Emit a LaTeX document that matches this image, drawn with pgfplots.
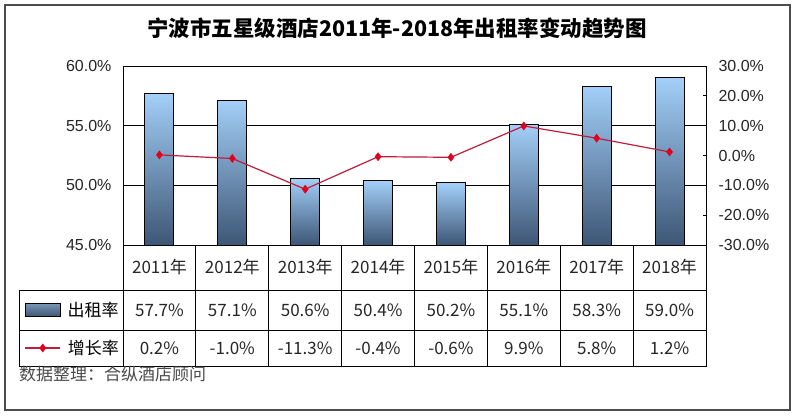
\documentclass[border=0pt]{standalone}
\usepackage{pgfplots}
\usepackage{pgfplotstable}
\pgfplotsset{compat=1.18}
\usepackage{fontspec}
\setmainfont{Liberation Sans}
\newfontfamily\cjk{Noto Sans CJK SC}
\definecolor{barTop}{RGB}{163,207,248}
\definecolor{barBot}{RGB}{61,86,117}
\definecolor{legTop}{RGB}{120,150,180}
\definecolor{lineRed}{RGB}{190,30,60}
\definecolor{markRed}{RGB}{225,0,30}
\pgfplotstableread{
x occ gr
0 57.7 0.2
1 57.1 -1.0
2 50.6 -11.3
3 50.4 -0.4
4 50.2 -0.6
5 55.1 9.9
6 58.3 5.8
7 59.0 1.2
}\data
\begin{document}
\begin{tikzpicture}
\useasboundingbox (0pt,0pt) rectangle (800pt,-417pt);
\fill[white] (0pt,0pt) rectangle (800pt,-417pt);
\pgfplotsset{
  common/.style={at={(123pt,-245pt)}, anchor=south west, scale only axis,
    width=583pt, height=179pt, xmin=-0.5, xmax=7.5,
    axis line style={black,line width=0.9pt},
    tick style={black,line width=0.9pt},
    ticklabel style={font=\fontsize{16}{16}\selectfont, text=black!85},
    legend style={draw=none, fill=none, inner sep=0pt,
      font=\cjk\fontsize{17}{17}\selectfont, nodes={inner sep=3pt}}},
  bar/.style={ybar, bar width=29pt, bar shift=0pt, draw=black, line width=0.9pt,
    top color=barTop, bottom color=barBot}
}
\begin{axis}[common, ymin=0, ymax=15, xtick=\empty,
  ytick={0,5,10,15}, yticklabels={45.0\%,50.0\%,55.0\%,60.0\%},
  ymajorgrids, grid style={black,line width=0.9pt}, major tick length=0pt,
  yticklabel style={xshift=-8pt},
  legend style={at={(-0.1690,-0.3631)}, anchor=west},
  legend image code/.code={\draw[draw=black,line width=0.8pt,top color=legTop,bottom color=barBot] (0pt,-6.5pt) rectangle (35pt,6.5pt); \path (39pt,0pt);}]
\addplot[bar, restrict x to domain=-0.1:0.1] table[x=x, y expr=\thisrow{occ}-45] {\data};
\addlegendentry{出租率}
\addplot[bar, forget plot, restrict x to domain=0.9:1.1] table[x=x, y expr=\thisrow{occ}-45] {\data};
\addplot[bar, forget plot, restrict x to domain=1.9:2.1] table[x=x, y expr=\thisrow{occ}-45] {\data};
\addplot[bar, forget plot, restrict x to domain=2.9:3.1] table[x=x, y expr=\thisrow{occ}-45] {\data};
\addplot[bar, forget plot, restrict x to domain=3.9:4.1] table[x=x, y expr=\thisrow{occ}-45] {\data};
\addplot[bar, forget plot, restrict x to domain=4.9:5.1] table[x=x, y expr=\thisrow{occ}-45] {\data};
\addplot[bar, forget plot, restrict x to domain=5.9:6.1] table[x=x, y expr=\thisrow{occ}-45] {\data};
\addplot[bar, forget plot, restrict x to domain=6.9:7.1] table[x=x, y expr=\thisrow{occ}-45] {\data};
\end{axis}
\begin{axis}[common, ymin=-30, ymax=30, axis x line=none, axis y line*=right,
  ytick={-30,-20,-10,0,10,20,30},
  yticklabels={-30.0\%,-20.0\%,-10.0\%,0.0\%,10.0\%,20.0\%,30.0\%},
  yticklabel style={anchor=west, xshift=9pt},
  major tick length=3pt, tick align=inside,
  legend style={at={(-0.1690,-0.5754)}, anchor=west},
  legend image code/.code={\draw[mark repeat=2, mark phase=2, #1] plot coordinates {(0pt,0pt) (17.5pt,0pt) (35pt,0pt)}; \path (39pt,0pt);}]
\addplot[lineRed, line width=1.2pt, mark=diamond*, mark size=4pt,
  mark options={fill=markRed, draw=markRed, line width=0.5pt}] table[x=x, y=gr] {\data};
\addlegendentry{增长率}
\end{axis}
\begin{scope}[x=1pt, y=-1pt]
  \draw[line width=0.9pt] (19,290) -- (707,290) (19,330) -- (707,330) (19,366) -- (707,366) (19,290) -- (19,366);
  \foreach \i in {0,...,8} \draw[line width=0.9pt] ({123+72.875*\i},245) -- ({123+72.875*\i},366);
  \foreach \yr [count=\i from 0] in {2011,2012,2013,2014,2015,2016,2017,2018}
    \node[font=\cjk\fontsize{17}{17}\selectfont, text=black!85] at ({123+72.875*(\i+0.5)},267.5) {{\yr}年};
  \foreach \v [count=\i from 0] in {57.7\%,57.1\%,50.6\%,50.4\%,50.2\%,55.1\%,58.3\%,59.0\%}
    \node[font=\cjk\fontsize{17}{17}\selectfont, text=black!85] at ({123+72.875*(\i+0.5)},310) {\v};
  \foreach \v [count=\i from 0] in {0.2\%,-1.0\%,-11.3\%,-0.4\%,-0.6\%,9.9\%,5.8\%,1.2\%}
    \node[font=\cjk\fontsize{17}{17}\selectfont, text=black!85] at ({123+72.875*(\i+0.5)},348) {\v};
  \node[anchor=west, inner sep=0pt, font=\cjk\fontsize{17}{17}\selectfont, text=black!70] at (19,374) {数据整理：合纵酒店顾问};
  \node[font=\cjk\bfseries\fontsize{21.5}{21.5}\selectfont] at (397,28) {宁波市五星级酒店2011年-2018年出租率变动趋势图};
  \draw[black!70, line width=1.5pt] (5,5) rectangle (790,410);
\end{scope}
\end{tikzpicture}
\end{document}
